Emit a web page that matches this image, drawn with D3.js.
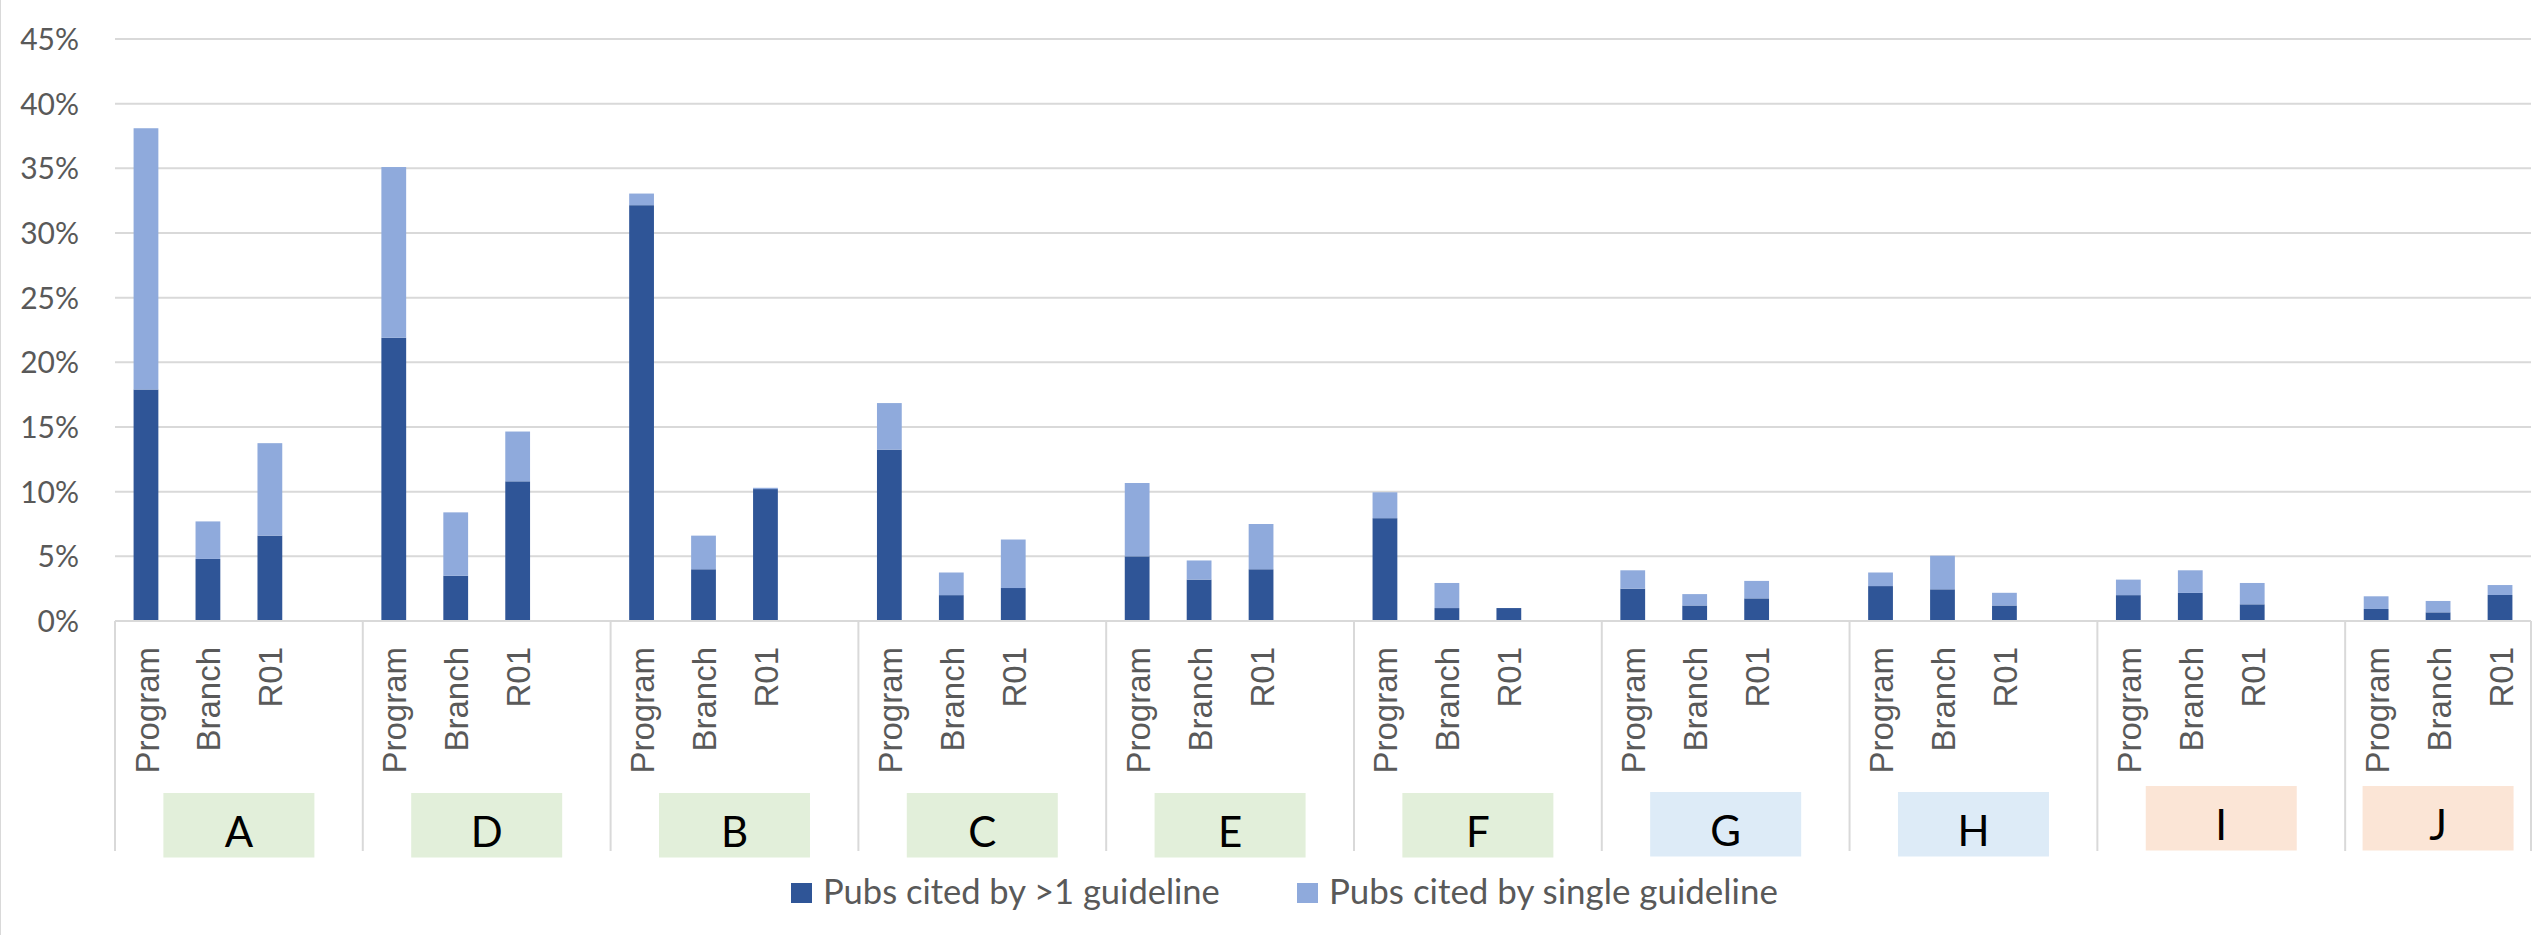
<!DOCTYPE html>
<html>
<head>
<meta charset="utf-8">
<script src="https://cdn.jsdelivr.net/npm/d3@7"></script>
<style>
  html, body { margin: 0; padding: 0; background: #fff; }
  svg { display: block; }
</style>
</head>
<body>
<svg id="chart" width="2539" height="935"></svg>
<script>
// ---------------- data ----------------
const groups = ["A", "D", "B", "C", "E", "F", "G", "H", "I", "J"];
const groupCluster = ["green", "green", "green", "green", "green", "green", "blue", "blue", "peach", "peach"];
const subCats = ["Program", "Branch", "R01"];
const seriesNames = ["Pubs cited by >1 guideline", "Pubs cited by single guideline"];

// percent values, one triple (Program, Branch, R01) per group
const multiGuideline = [
  [17.9, 4.8, 6.6],
  [21.9, 3.5, 10.8],
  [32.15, 4.0, 10.2],
  [13.25, 2.0, 2.55],
  [5.0, 3.2, 4.0],
  [7.95, 1.0, 1.0],
  [2.5, 1.2, 1.75],
  [2.7, 2.45, 1.2],
  [2.0, 2.17, 1.29],
  [0.93, 0.67, 2.01]
];
const singleGuideline = [
  [20.2, 2.9, 7.15],
  [13.2, 4.9, 3.85],
  [0.9, 2.6, 0.1],
  [3.6, 1.75, 3.75],
  [5.67, 1.48, 3.5],
  [2.0, 1.94, 0.0],
  [1.42, 0.88, 1.35],
  [1.05, 2.6, 0.98],
  [1.2, 1.75, 1.65],
  [0.98, 0.88, 0.77]
];
const yTicks = [0, 5, 10, 15, 20, 25, 30, 35, 40, 45];

// ---------------- styles ----------------
const colDark = "#2F5597";
const colLight = "#8FAADC";
const gridCol = "#D9D9D9";
const textCol = "#595959";
const clusterFill = { green: "#E2EFDA", blue: "#DDEBF7", peach: "#FBE5D6" };
const clusterTop = { green: 793, blue: 792, peach: 786 };

const svg = d3.select("#chart");
const plotLeft = 115, plotRight = 2531, plotTop = 39, plotBottom = 621;

// slots: each group has Program, Branch, R01 and a blank spacer (except last group)
const slots = [];
groups.forEach((g, gi) => {
  subCats.forEach(s => slots.push(g + "|" + s));
  if (gi < groups.length - 1) slots.push(g + "|_gap");
});

const x = d3.scaleBand().domain(slots).range([plotLeft, plotRight]).paddingInner(0.6).paddingOuter(0.3);
const step = x.step();
const y = d3.scaleLinear().domain([0, 45]).range([plotBottom, plotTop]);

// chart border at left
svg.append("line").attr("x1", 0.5).attr("x2", 0.5).attr("y1", 0).attr("y2", 935)
  .attr("stroke", gridCol).attr("stroke-width", 1);

// gridlines
svg.append("g").selectAll("line").data(yTicks).join("line")
  .attr("x1", plotLeft).attr("x2", plotRight)
  .attr("y1", d => y(d)).attr("y2", d => y(d))
  .attr("stroke", gridCol).attr("stroke-width", 2);

// y axis via d3 axis
const yAxis = d3.axisLeft(y).tickValues(yTicks).tickFormat(d => d + "%").tickSize(0).tickPadding(0);
const yG = svg.append("g").attr("transform", `translate(79,0)`).call(yAxis);
yG.select(".domain").remove();
yG.selectAll("text")
  .attr("font-family", "Lato, 'Open Sans', sans-serif")
  .attr("font-size", 30)
  .attr("fill", textCol)
  .attr("x", 0)
  .attr("dy", "0.35em");

// stacked bars
const stackData = [];
groups.forEach((g, gi) => {
  subCats.forEach((s, si) => {
    stackData.push({ key: g + "|" + s, m: multiGuideline[gi][si], s: singleGuideline[gi][si] });
  });
});
const stack = d3.stack().keys(["m", "s"]);
const layers = stack(stackData);
const layerColors = [colDark, colLight];

svg.append("g").selectAll("g").data(layers).join("g")
  .attr("fill", (d, i) => layerColors[i])
  .selectAll("rect").data(d => d).join("rect")
  .attr("x", d => x(d.data.key))
  .attr("width", x.bandwidth())
  .attr("y", d => y(d[1]))
  .attr("height", d => Math.max(0, y(d[0]) - y(d[1])));

// baseline
svg.append("line").attr("x1", plotLeft).attr("x2", plotRight).attr("y1", plotBottom).attr("y2", plotBottom)
  .attr("stroke", gridCol).attr("stroke-width", 2);

// group dividers
const dividerX = d3.range(groups.length).map(i => plotLeft + i * 4 * step).concat([plotRight]);
svg.append("g").selectAll("line").data(dividerX).join("line")
  .attr("x1", d => d).attr("x2", d => d)
  .attr("y1", plotBottom).attr("y2", 851)
  .attr("stroke", gridCol).attr("stroke-width", 2);

// sub-category labels (rotated)
const labelG = svg.append("g");
groups.forEach(g => {
  subCats.forEach(s => {
    const cx = x(g + "|" + s) + x.bandwidth() / 2;
    labelG.append("text")
      .attr("transform", `translate(${cx},647) rotate(-90)`)
      .attr("text-anchor", "end")
      .attr("dy", "0.38em")
      .attr("font-family", "'Liberation Sans', Arial, sans-serif")
      .attr("font-size", 33)
      .attr("fill", textCol)
      .text(s);
  });
});

// group boxes
const boxW = 151, boxH = 64.5;
groups.forEach((g, gi) => {
  const gStart = plotLeft + gi * 4 * step;
  const gEnd = gi < groups.length - 1 ? gStart + 4 * step : plotRight;
  const cx = (gStart + gEnd) / 2;
  const topY = clusterTop[groupCluster[gi]];
  svg.append("rect")
    .attr("x", cx - boxW / 2).attr("y", topY)
    .attr("width", boxW).attr("height", boxH)
    .attr("fill", clusterFill[groupCluster[gi]]);
  svg.append("text")
    .attr("x", cx).attr("y", topY + 54)
    .attr("text-anchor", "middle")
    .attr("font-family", "Lato, 'Open Sans', sans-serif")
    .attr("font-size", 42)
    .attr("fill", "#000")
    .text(g);
});

// legend
const legendItems = [
  { name: seriesNames[0], color: colDark, x: 791, w: 397 },
  { name: seriesNames[1], color: colLight, x: 1297, w: 449 }
];
legendItems.forEach(it => {
  svg.append("rect").attr("x", it.x).attr("y", 883).attr("width", 21).attr("height", 20).attr("fill", it.color);
  const t = svg.append("text")
    .attr("x", it.x + 32).attr("y", 904)
    .attr("font-family", "Lato, 'Open Sans', sans-serif")
    .attr("font-size", 31)
    .attr("fill", textCol)
    .text(it.name);
  const len = t.node().getComputedTextLength();
  if (len > 0) t.attr("font-size", 31 * it.w / len);
});
</script>
</body>
</html>
